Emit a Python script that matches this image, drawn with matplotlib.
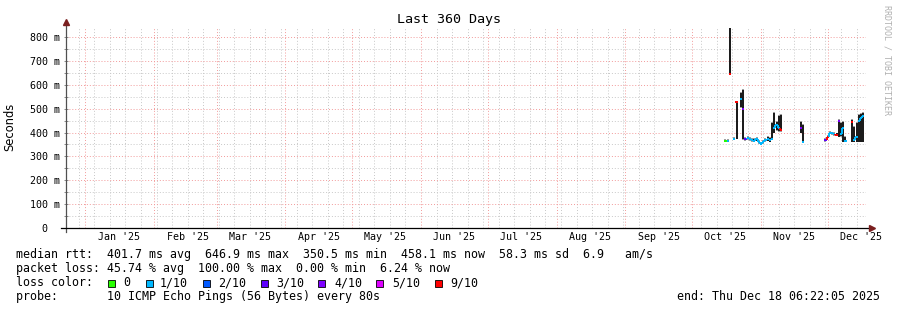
import numpy as np
import pandas as pd
import matplotlib
matplotlib.use('Agg')
import matplotlib.pyplot as plt
import matplotlib.dates as mdates
from matplotlib.patches import Rectangle
from matplotlib.ticker import MultipleLocator, FuncFormatter
from datetime import datetime

plt.rcParams['font.family'] = ['DejaVu Sans Mono']

# time window of the graph
start = datetime(2024, 12, 23, 6, 22, 5)
end = datetime(2025, 12, 18, 6, 22, 5)

# one sample per day, Oct 15 .. Dec 17 2025 (ms)
days = pd.date_range('2025-10-15', '2025-12-17', freq='D')
nan = np.nan
median = [nan, 364, 365, 645, nan, 375, 528, nan, 540, 497,
          372, 376, 372, 368, 366, 372, 360, 352, 362, 368,
          372, 368, 375, 420, 432, 418, 410,
          nan, nan, nan, nan, nan, nan, nan, nan,
          419, 362,
          nan, nan, nan, nan, nan, nan, nan, nan, nan,
          368, 382, 400, 396, 392, 390, 450, 395, 420, 365,
          nan, nan, 445, 370, 380, 450, 462, 470]
smoke_lo = [nan, 362, 362, 645, nan, 372, 375, nan, 505, 372,
            368, 372, 368, 364, 362, 366, 356, 348, 356, 364,
            366, 362, 370, 400, 410, 405, 405,
            nan, nan, nan, nan, nan, nan, nan, nan,
            400, 360,
            nan, nan, nan, nan, nan, nan, nan, nan, nan,
            364, 378, 396, 392, 388, 386, 382, 385, 361, 361,
            nan, nan, 361, 361, 361, 361, 361, 361]
smoke_hi = [nan, 367, 368, 838, nan, 379, 530, nan, 565, 578,
            378, 380, 376, 372, 372, 376, 366, 358, 366, 374,
            382, 376, 440, 480, 445, 470, 473,
            nan, nan, nan, nan, nan, nan, nan, nan,
            445, 430,
            nan, nan, nan, nan, nan, nan, nan, nan, nan,
            374, 386, 404, 400, 398, 396, 452, 440, 445, 380,
            nan, nan, 452, 424, 440, 473, 478, 480]
# index into loss_colors (0 = no loss ... 6 = 9/10)
loss = [0, 0, 1, 6, 0, 1, 6, 0, 1, 4,
        3, 1, 1, 1, 1, 1, 1, 1, 1, 1,
        1, 1, 1, 1, 1, 1, 6,
        0, 0, 0, 0, 0, 0, 0, 0,
        4, 1,
        0, 0, 0, 0, 0, 0, 0, 0, 0,
        3, 6, 1, 1, 1, 6, 4, 1, 1, 1,
        0, 0, 6, 1, 1, 1, 1, 1]

loss_labels = ['0', '1/10', '2/10', '3/10', '4/10', '5/10', '9/10']
loss_colors = ['#26ff00', '#00b8ff', '#0059ff', '#5e00ff', '#7e00ff', '#dd00ff', '#ff0000']

month_labels = ["Jan '25", "Feb '25", "Mar '25", "Apr '25", "May '25", "Jun '25",
                "Jul '25", "Aug '25", "Sep '25", "Oct '25", "Nov '25", "Dec '25"]

rtt_line = 'median rtt:  401.7 ms avg  646.9 ms max  350.5 ms min  458.1 ms now  58.3 ms sd  6.9   am/s'
loss_line = 'packet loss: 45.74 % avg  100.00 % max  0.00 % min  6.24 % now'
probe_line = 'probe:       10 ICMP Echo Pings (56 Bytes) every 80s'
end_line = 'end: Thu Dec 18 06:22:05 2025'

W, H = 897, 310
fig = plt.figure(figsize=(W / 100, H / 100), dpi=100)
ax = fig.add_axes([66 / W, 82 / H, 800 / W, 200 / H])

x = mdates.date2num(days)
med = np.array(median, dtype=float)
lo = np.array(smoke_lo, dtype=float)
hi = np.array(smoke_hi, dtype=float)

# smoke: light fringe then dark core
ok = ~np.isnan(lo)
ax.bar(x[ok], (hi - lo)[ok] + 6, bottom=lo[ok] - 2, width=0.9, color='#a0a0a0', linewidth=0, zorder=2)
ax.bar(x[ok], (hi - lo)[ok], bottom=lo[ok], width=0.9, color='#1c1c1c', linewidth=0, zorder=3)

# median line, coloured by loss
for i in range(len(x)):
    if np.isnan(med[i]):
        continue
    c = loss_colors[loss[i]]
    ax.hlines(med[i], x[i] - 0.5, x[i] + 0.5, colors=c, lw=1.4, zorder=4)
    if i > 0 and not np.isnan(med[i - 1]) and abs(med[i] - med[i - 1]) < 40:
        ax.vlines(x[i] - 0.5, med[i - 1], med[i], colors=c, lw=1.4, zorder=4)

ax.set_xlim(start, end)
ax.set_ylim(0, 838)

# grid
ax.yaxis.set_major_locator(MultipleLocator(100))
ax.yaxis.set_minor_locator(MultipleLocator(50))
ax.yaxis.set_major_formatter(FuncFormatter(lambda v, p: '0  ' if v == 0 else '%d m' % v))
ax.xaxis.set_major_locator(mdates.MonthLocator())
ax.xaxis.set_minor_locator(mdates.WeekdayLocator(byweekday=mdates.SU))
ax.xaxis.set_major_formatter(FuncFormatter(lambda v, p: ''))
ax.grid(True, which='minor', color='#c8c8c8', linestyle=(0, (1, 2)), lw=0.7)
ax.grid(True, which='major', color='#f29a9a', linestyle=(0, (1, 2)), lw=0.7)
ax.set_axisbelow(True)

ax.tick_params(axis='y', which='both', direction='inout', length=3, width=0.6, color='#777777',
               labelsize=7.2, pad=2.5)
ax.tick_params(axis='x', which='both', length=0)

for s in ax.spines.values():
    s.set_visible(False)

# month labels centred in each month
for m, lab in enumerate(month_labels, start=1):
    ax.text(datetime(2025, m, 16), -0.047, lab, transform=ax.get_xaxis_transform(),
            ha='center', va='center', fontsize=7.2)

# axes with arrows
ax.plot([0, 0], [-0.02, 1.025], transform=ax.transAxes, clip_on=False, color='#505050', lw=0.9, zorder=5)
ax.plot([-0.006, 1.005], [0, 0], transform=ax.transAxes, clip_on=False, color='#000000', lw=0.9, zorder=5)
ax.plot([0], [1.03], marker='^', ms=4, color='#7a1f1f', transform=ax.transAxes, clip_on=False, zorder=6)
ax.plot([1.007], [0], marker='>', ms=4, color='#7a1f1f', transform=ax.transAxes, clip_on=False, zorder=6)

fig.text(0.5, 1 - 19 / H, 'Last 360 Days', ha='center', va='center', fontsize=9.6)
fig.text(10 / W, 1 - 127 / H, 'Seconds', rotation=90, ha='center', va='center',
         fontsize=8.3, family='DejaVu Sans')
fig.text(887 / W, 1 - 60 / H, 'RRDTOOL / TOBI OETIKER', rotation=270, ha='center', va='center',
         fontsize=6, color='#b0b0b0')

# legend
lx = 16 / W
fs = 8.4
fig.text(lx, 1 - 254.5 / H, rtt_line, va='center', fontsize=fs)
fig.text(lx, 1 - 268.5 / H, loss_line, va='center', fontsize=fs)
fig.text(lx, 1 - 282.5 / H, 'loss color:', va='center', fontsize=fs)
fig.text(lx, 1 - 296.5 / H, probe_line, va='center', fontsize=fs)
fig.text(880 / W, 1 - 296.5 / H, end_line, ha='right', va='center', fontsize=fs)

box_x = [108, 146, 203, 261, 318, 376, 435]
lab_x = [123, 160, 218, 276, 334, 392, 450]
for bx, tx, lab, c in zip(box_x, lab_x, loss_labels, loss_colors):
    fig.patches.append(Rectangle((bx / W, 1 - 286.5 / H), 7 / W, 7 / H, transform=fig.transFigure,
                                 facecolor=c, edgecolor='black', lw=0.6))
    fig.text(tx / W, 1 - 282.5 / H, lab, va='center', fontsize=fs)

fig.savefig('out.png', dpi=100)
